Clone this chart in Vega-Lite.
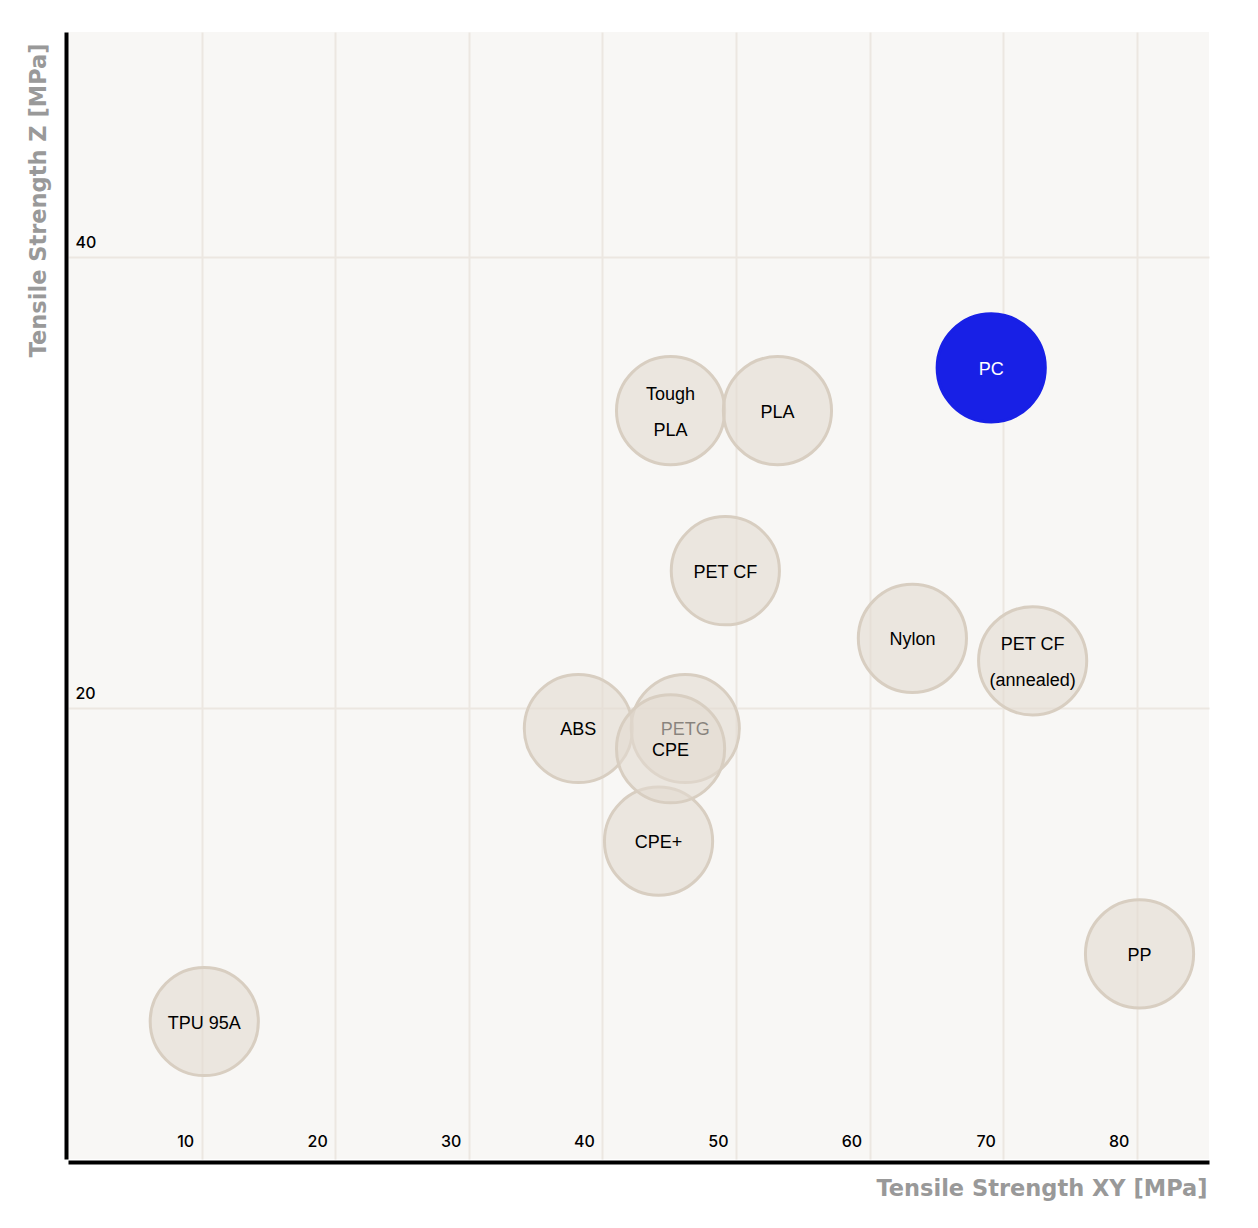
{
  "$schema": "https://vega.github.io/schema/vega-lite/v6.json",
  "autosize": {"type": "none"},
  "padding": {"left": 68, "top": 32, "right": 49, "bottom": 69},
  "width": 1141,
  "height": 1127,
  "background": "#ffffff",
  "config": {"view": {"fill": "#f8f7f5", "stroke": null}},
  "data": {"values": [
    {"material": "TPU 95A", "label": "TPU 95A", "xy": 10.2, "z": 6.1},
    {"material": "ABS", "label": "ABS", "xy": 38.2, "z": 19.1},
    {"material": "PETG", "label": "PETG", "xy": 46.2, "z": 19.1},
    {"material": "CPE", "label": "CPE", "xy": 45.1, "z": 18.2},
    {"material": "CPE+", "label": "CPE+", "xy": 44.2, "z": 14.1},
    {"material": "PET CF", "label": "PET CF", "xy": 49.2, "z": 26.1},
    {"material": "Tough PLA", "label": "Tough\nPLA", "xy": 45.1, "z": 33.2},
    {"material": "PLA", "label": "PLA", "xy": 53.1, "z": 33.2},
    {"material": "PC", "label": "PC", "xy": 69.1, "z": 35.1},
    {"material": "Nylon", "label": "Nylon", "xy": 63.2, "z": 23.1},
    {"material": "PET CF (annealed)", "label": "PET CF\n(annealed)", "xy": 72.2, "z": 22.1},
    {"material": "PP", "label": "PP", "xy": 80.2, "z": 9.1}
  ]},
  "encoding": {
    "x": {
      "field": "xy", "type": "quantitative",
      "scale": {"domain": [0, 85.4], "nice": false, "zero": false},
      "axis": {
        "title": "Tensile Strength XY [MPa]",
        "values": [10, 20, 30, 40, 50, 60, 70, 80],
        "grid": true, "gridColor": "#ece7e1", "gridWidth": 2,
        "domainColor": "#000000", "domainWidth": 4, "offset": 3,
        "ticks": false, "tickSize": 0,
        "labelAlign": "right", "labelBaseline": "alphabetic", "labelPadding": -16, "labelOffset": -8,
        "labelFont": "Inter", "labelFontSize": 16, "labelFontWeight": 500, "labelColor": "#000000",
        "labelFlush": false, "labelOverlap": false,
        "titleFont": "DejaVu Sans", "titleFontWeight": "bold", "titleFontSize": 22.5, "titleColor": "#999999",
        "titleAnchor": "end", "titleAlign": "right", "titleBaseline": "middle", "titleX": 1139, "titleY": 26
      }
    },
    "y": {
      "field": "z", "type": "quantitative",
      "scale": {"domain": [0, 50], "nice": false, "zero": false},
      "axis": {
        "title": "Tensile Strength Z [MPa]",
        "values": [20, 40],
        "grid": true, "gridColor": "#ece7e1", "gridWidth": 2,
        "domainColor": "#000000", "domainWidth": 4, "offset": 2,
        "ticks": false, "tickSize": 0,
        "labelAlign": "left", "labelBaseline": "alphabetic", "labelPadding": -9, "labelOffset": -10,
        "labelFont": "Inter", "labelFontSize": 16, "labelFontWeight": 500, "labelColor": "#000000",
        "labelFlush": false, "labelOverlap": false,
        "titleFont": "DejaVu Sans", "titleFontWeight": "bold", "titleFontSize": 22.5, "titleColor": "#999999",
        "titleAngle": -90, "titleAlign": "right", "titleBaseline": "middle", "titleX": -28, "titleY": 11
      }
    }
  },
  "layer": [
    {
      "transform": [{"filter": "datum.material !== 'CPE'"}],
      "mark": {"type": "circle", "size": 11700, "strokeWidth": 3, "opacity": 1},
      "encoding": {
        "fill": {"condition": {"test": "datum.material === 'PC'", "value": "#1820e6"}, "value": "#e3dbd0"},
        "fillOpacity": {"condition": {"test": "datum.material === 'PC'", "value": 1}, "value": 0.6},
        "stroke": {"condition": {"test": "datum.material === 'PC'", "value": "#1820e6"}, "value": "#d8cec1"}
      }
    },
    {
      "transform": [{"filter": {"not": {"field": "material", "oneOf": ["CPE", "Tough PLA", "PET CF (annealed)"]}}}],
      "mark": {"type": "text", "font": "Liberation Sans", "fontSize": 18, "align": "center", "baseline": "middle", "dy": 2},
      "encoding": {
        "text": {"field": "label", "type": "nominal"},
        "color": {"condition": {"test": "datum.material === 'PC'", "value": "#ffffff"}, "value": "#000000"}
      }
    },
    {
      "transform": [{"filter": {"field": "material", "oneOf": ["Tough PLA", "PET CF (annealed)"]}}],
      "mark": {"type": "text", "font": "Liberation Sans", "fontSize": 18, "lineBreak": "\n", "lineHeight": 36, "align": "center", "baseline": "middle", "dy": -16, "color": "#000000"},
      "encoding": {
        "text": {"field": "label", "type": "nominal"}
      }
    },
    {
      "transform": [{"filter": "datum.material === 'CPE'"}],
      "mark": {"type": "circle", "size": 11700, "strokeWidth": 3, "opacity": 1, "fill": "#e3dbd0", "fillOpacity": 0.6, "stroke": "#d8cec1"},
      "encoding": {}
    },
    {
      "transform": [{"filter": "datum.material === 'CPE'"}],
      "mark": {"type": "text", "font": "Liberation Sans", "fontSize": 18, "align": "center", "baseline": "middle", "dy": 2, "color": "#000000"},
      "encoding": {"text": {"field": "label", "type": "nominal"}}
    }
  ]
}
